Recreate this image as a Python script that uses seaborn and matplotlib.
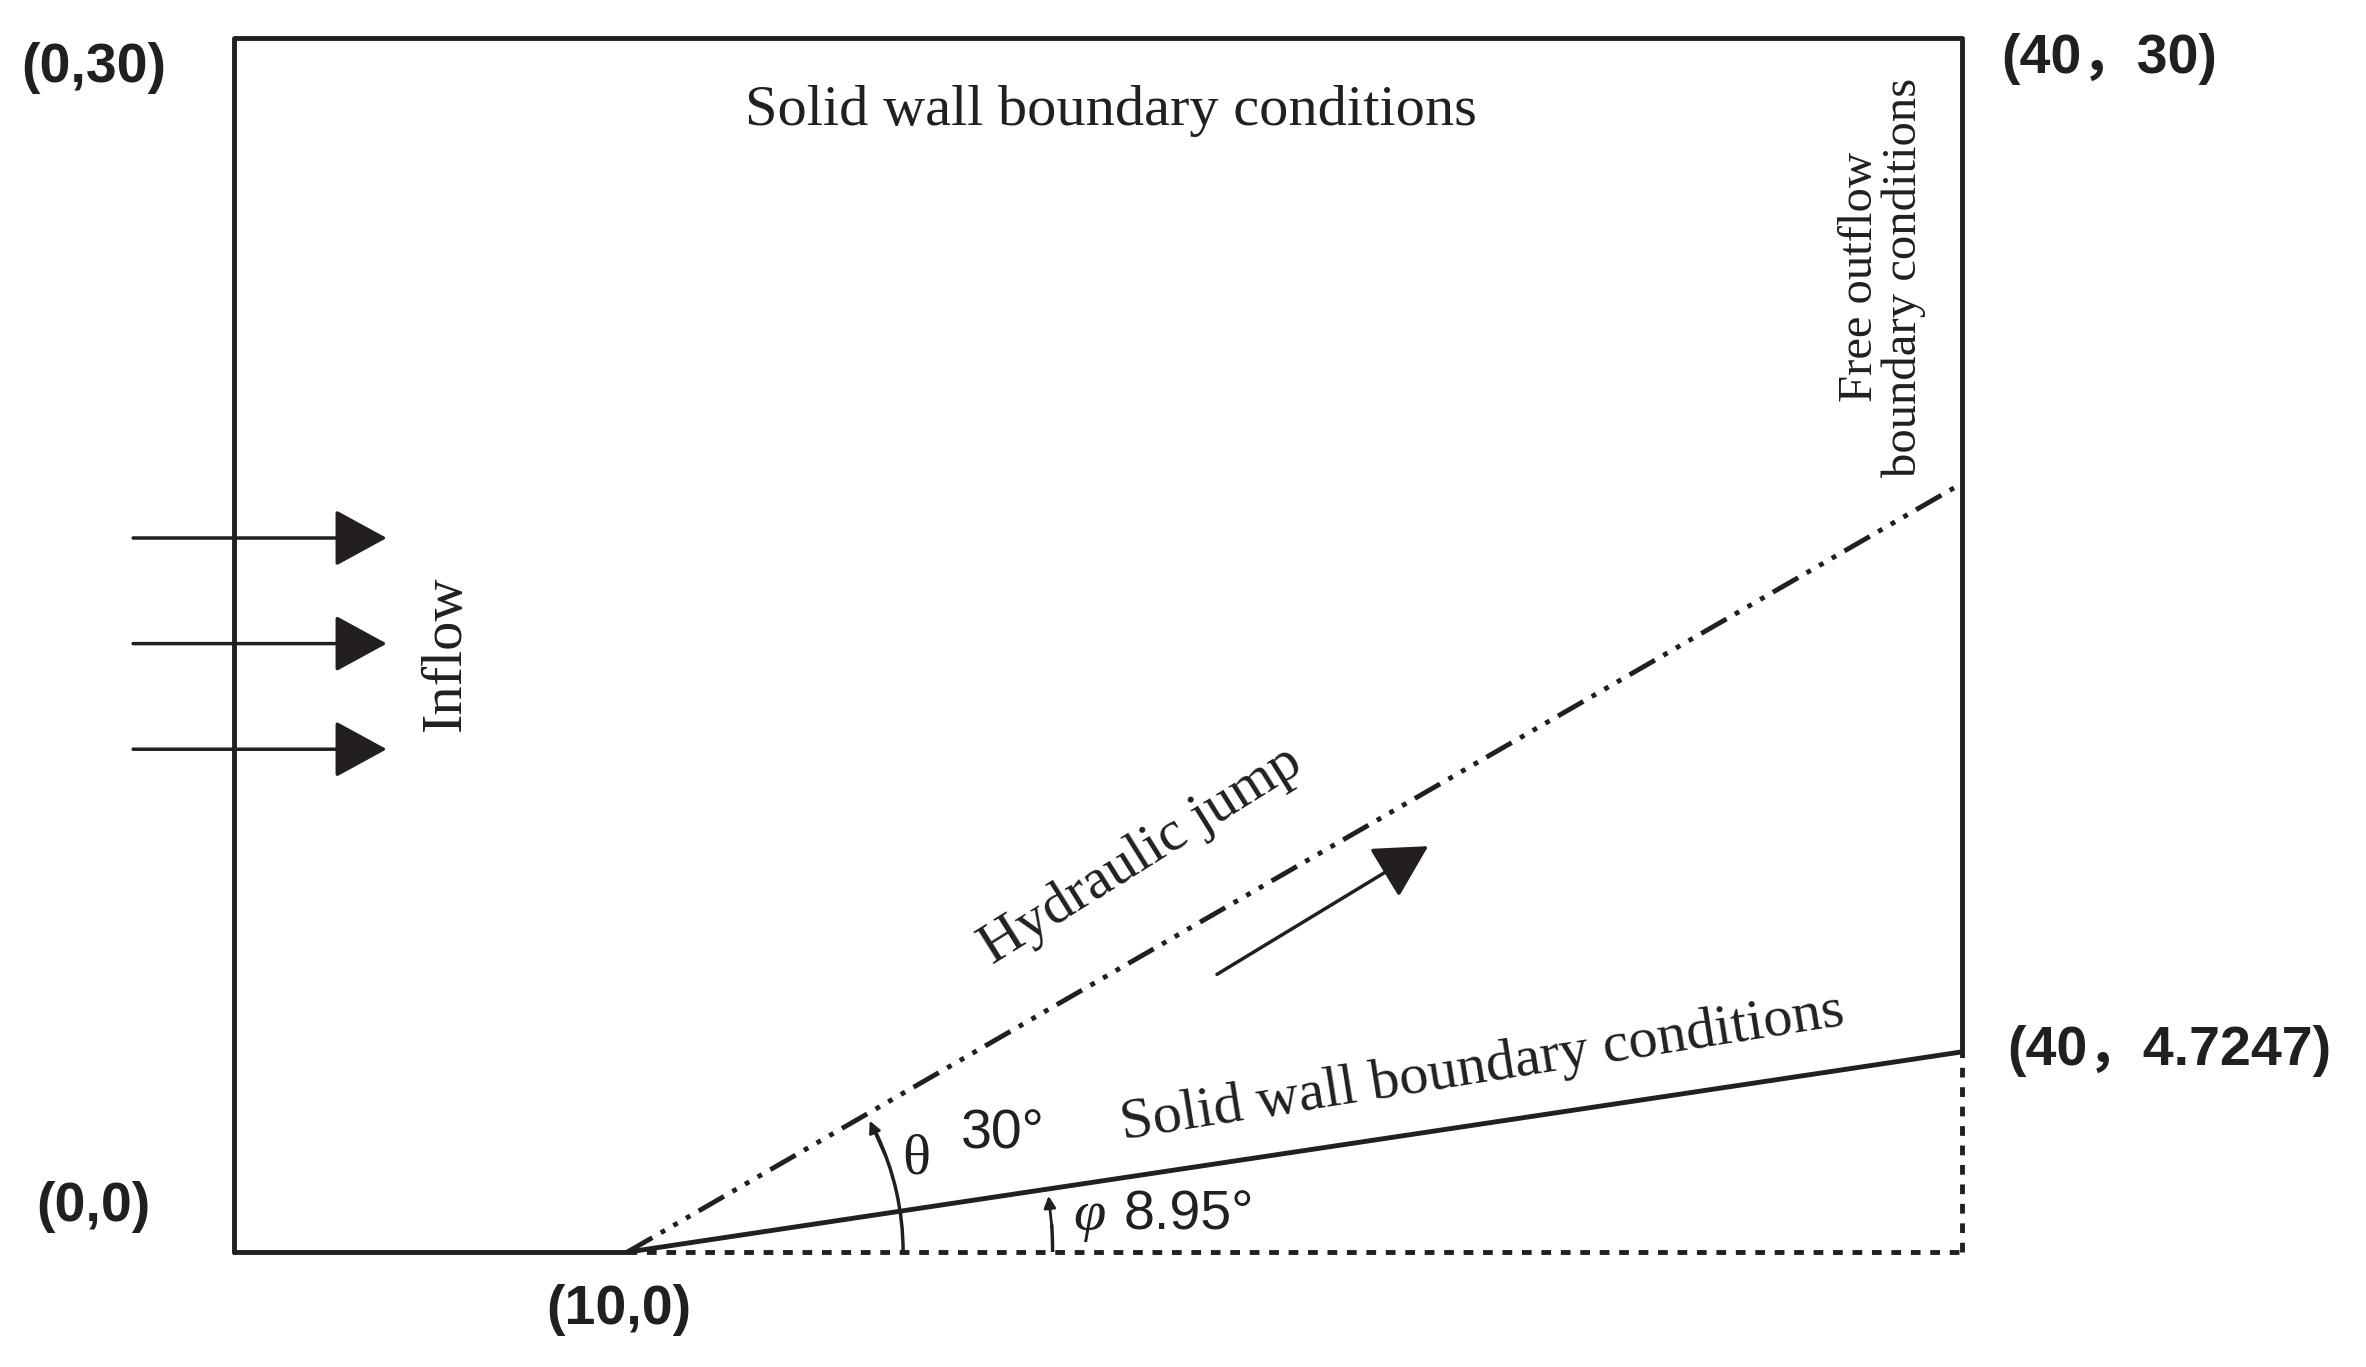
import numpy as np
import matplotlib
matplotlib.use("Agg")
import matplotlib.pyplot as plt
import seaborn as sns
from matplotlib.patches import Arc

sns.set_style("white")

# geometry (domain units, as drawn in the sketch)
wall_x = [0, 0, 40, 40]
wall_y = [0, 30, 30, 4.7247]
x0 = 9.1  # drawn position of the slope start
slope_x = [x0, 40]
slope_y = [0, 4.95]
jump_x = [x0, 40]
jump_y = [0, 19.0]
inflow_y = [17.65, 15.04, 12.43]
corner_labels = ["(0,30)", "(40，30)", "(40，4.7247)", "(0,0)", "(10,0)"]
corner_pos = [(-3.25, 29.26), (43.4, 29.5), (44.8, 4.96), (-3.25, 1.12), (8.9, -1.42)]

fig = plt.figure(figsize=(23.66, 13.67), dpi=100)
ax = fig.add_axes([0.0989, 0.084, 0.7303, 0.888])
ax.set_xlim(0, 40)
ax.set_ylim(0, 30)
ax.axis("off")

tc = "#231f20"
lw = 3.5
ax.plot(wall_x, [0, 30, 30, 4.95], color=tc, lw=lw, clip_on=False)
ax.plot([0, x0], [0, 0], color=tc, lw=lw, clip_on=False)
ax.plot(slope_x, slope_y, color=tc, lw=lw, clip_on=False)
ax.plot([x0, 40], [0, 0], color=tc, lw=lw, ls=(0, (2, 2)), clip_on=False)
ax.plot([40, 40], [0, 4.95], color=tc, lw=lw, ls=(0, (2, 2)), clip_on=False)
ax.plot(jump_x, jump_y, color=tc, lw=lw, ls=(0, (6, 2, 1, 2, 1, 2, 1, 2)), clip_on=False)

arrow = dict(arrowstyle="-|>,head_length=3.3,head_width=1.8", color=tc, lw=2.5)
for y in inflow_y:
    ax.annotate("", xy=(3.6, y), xytext=(-2.4, y), arrowprops=arrow, annotation_clip=False)
ax.annotate("", xy=(27.7, 10.07), xytext=(22.7, 6.83), arrowprops=arrow)

# angle arcs
small = dict(arrowstyle="-|>,head_length=0.7,head_width=0.35", color=tc, lw=2)
ax.add_patch(Arc((x0, 0), 12.78, 13.64, theta1=0, theta2=27, color=tc, lw=2.5))
ax.annotate("", xy=(14.69, 3.31), xytext=(15.1, 2.33), arrowprops=small)
ax.add_patch(Arc((x0, 0), 19.7, 21.0, theta1=0, theta2=4, color=tc, lw=2.5))
ax.annotate("", xy=(18.85, 1.46), xytext=(18.94, 0.55), arrowprops=small)

serif = "Liberation Serif"
sans = ["Liberation Sans", "Noto Sans CJK SC"]
fs = 42
ax.text(20.3, 28.2, "Solid wall boundary conditions", family=serif, fontsize=fs, ha="center", va="center", color=tc)
ax.text(28.9, 4.55, "Solid wall boundary conditions", family=serif, fontsize=fs, ha="center", va="center",
        rotation=9, color=tc)
ax.text(21.0, 9.8, "Hydraulic jump", family=serif, fontsize=fs, ha="center", va="center", rotation=32, color=tc)
ax.text(4.9, 14.8, "Inflow", family=serif, fontsize=fs, ha="center", va="center", rotation=90, color=tc)
ax.text(38.15, 24.1, "Free outflow\nboundary conditions", family=serif, fontsize=35, ha="center", va="center",
        rotation=90, linespacing=1.0, color=tc)
ax.text(15.8, 2.3, "θ", family=serif, fontsize=fs, ha="center", va="center", color=tc)
ax.text(17.8, 2.9, "30°", family=sans, fontsize=40, ha="center", va="center", color=tc)
ax.text(19.8, 0.9, "φ", family=serif, style="italic", fontsize=fs, ha="center", va="center", color=tc)
ax.text(22.1, 0.9, "8.95°", family=sans, fontsize=40, ha="center", va="center", color=tc)
for lab, (x, y) in zip(corner_labels, corner_pos):
    ax.text(x, y, lab, family=sans, fontweight="bold", fontsize=40, ha="center", va="center", color=tc)

fig.savefig("out.png", dpi=100, facecolor="white")
